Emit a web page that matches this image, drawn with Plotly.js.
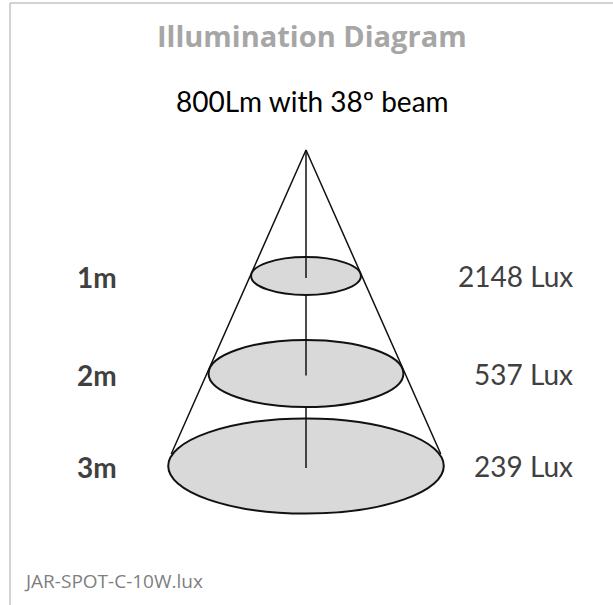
<!DOCTYPE html>
<html><head><meta charset="utf-8">
<script src="https://cdn.plot.ly/plotly-3.0.1.min.js"></script>
<style>body{margin:0;padding:0;background:#fff}</style>
</head><body><div id="chart" style="width:613px;height:605px"></div>
<script>
// Data
const distances = ['1m', '2m', '3m'];
const luxValues = [2148, 537, 239];
const lumens = 800;
const beamAngle = 38;
const fileName = 'JAR-SPOT-C-10W.lux';

// Diagram geometry (pixel space of the figure)
const apex = {x: 306, y: 150};
const centersY = [276, 373.5, 466];
const widthRatio = 0.436;   // ellipse half-width per unit depth
const flatRatio = 0.345;    // ellipse height / width

const shapes = [];
const traces = [];
const annotations = [];

// border
shapes.push({type:'line', xref:'x', yref:'y', x0:10, x1:640, y0:3, y1:3, line:{color:'#a6a6a6', width:1}});
shapes.push({type:'line', xref:'x', yref:'y', x0:10, x1:10, y0:3, y1:640, line:{color:'#a6a6a6', width:1}});

const ell = centersY.map(cy => {
  const rx = (cy - apex.y) * widthRatio;
  return {cx: apex.x, cy: cy, rx: rx, ry: rx * flatRatio};
});
const last = ell[ell.length - 1];

// cone lines
traces.push({x:[last.cx - last.rx + 3, apex.x, last.cx + last.rx - 3], y:[last.cy - 12, apex.y, last.cy - 12],
  mode:'lines', line:{color:'#111', width:1.5}, hoverinfo:'skip', showlegend:false});

// ellipses
ell.forEach(e => {
  shapes.push({type:'circle', xref:'x', yref:'y', layer:'above',
    x0:e.cx - e.rx, x1:e.cx + e.rx, y0:e.cy - e.ry, y1:e.cy + e.ry,
    fillcolor:'#d9d9d9', line:{color:'#111', width:2}});
});

// center axis segments (visible on the upper half of each disc)
let startY = apex.y;
ell.forEach(e => {
  shapes.push({type:'line', xref:'x', yref:'y', layer:'above', x0:e.cx, x1:e.cx, y0:startY, y1:e.cy + 2,
    line:{color:'#111', width:1.5}});
  startY = e.cy + e.ry;
});

const font = 'Lato, "Open Sans", sans-serif';
const wide = '"Open Sans", Lato, sans-serif';
annotations.push({x:312, y:35, xref:'x', yref:'y', text:'<b>Illumination Diagram</b>', showarrow:false,
  font:{family:wide, size:29, color:'#a6a6a6'}});
annotations.push({x:312, y:101, xref:'x', yref:'y', text:lumens + 'Lm with ' + beamAngle + 'º beam', showarrow:false,
  font:{family:font, size:28, color:'#000'}});
distances.forEach((d, i) => {
  annotations.push({x:75, y:centersY[i] + 1, xref:'x', yref:'y', xanchor:'left', text:'<b>' + d + '</b>', showarrow:false,
    font:{family:font, size:28, color:'#404040'}});
  annotations.push({x:575, y:centersY[i], xref:'x', yref:'y', xanchor:'right', text:luxValues[i] + ' Lux', showarrow:false,
    font:{family:font, size:28, color:'#404040'}});
});
annotations.push({x:22, y:581, xref:'x', yref:'y', xanchor:'left', text:fileName, showarrow:false,
  font:{family:wide, size:19, color:'#7f7f7f'}});

Plotly.newPlot('chart', traces, {
  width:613, height:605, margin:{l:0, r:0, t:0, b:0},
  paper_bgcolor:'#fff', plot_bgcolor:'#fff',
  xaxis:{range:[0,613], visible:false, fixedrange:true},
  yaxis:{range:[605,0], visible:false, fixedrange:true},
  shapes:shapes, annotations:annotations, showlegend:false
}, {staticPlot:true});
</script></body></html>
